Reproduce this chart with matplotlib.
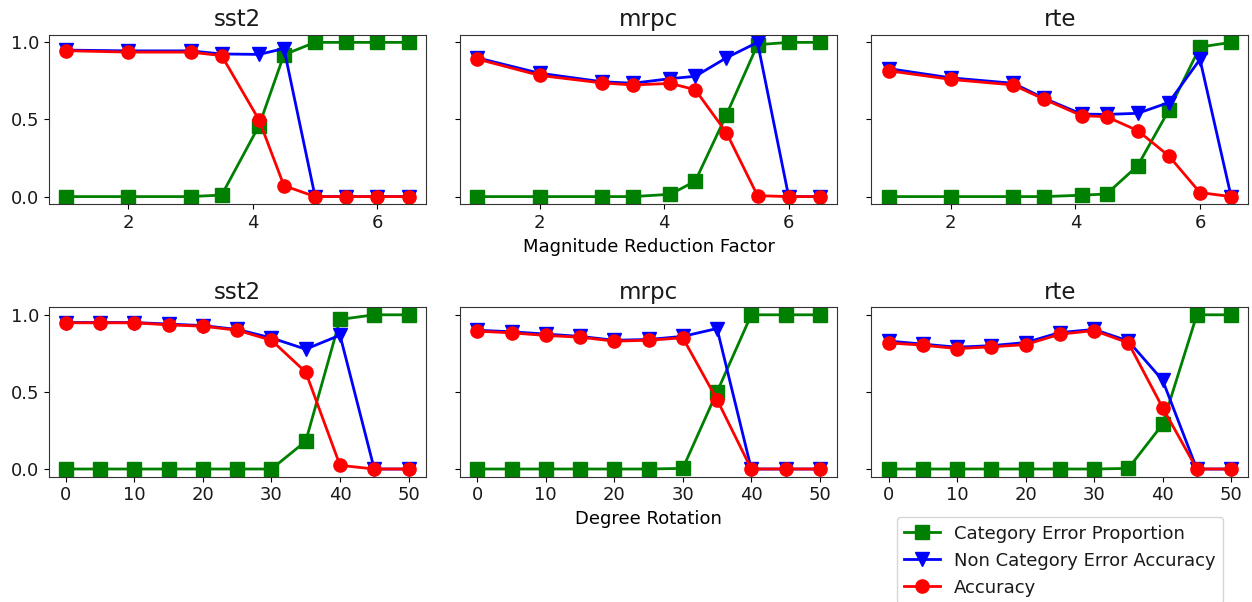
import matplotlib
matplotlib.use('Agg')
import matplotlib.pyplot as plt

# x values
magnitude_x = [1, 2, 3, 3.5, 4.1, 4.5, 5, 5.5, 6, 6.5]
rotation_x = [0, 5, 10, 15, 20, 25, 30, 35, 40, 45, 50]
tasks = ['sst2', 'mrpc', 'rte']

# Magnitude reduction (top row)
mag_cat_err = {
    'sst2': [0, 0, 0, 0.01, 0.46, 0.92, 1.0, 1.0, 1.0, 1.0],
    'mrpc': [0, 0, 0, 0, 0.015, 0.10, 0.53, 0.985, 1.0, 1.0],
    'rte': [0, 0, 0, 0, 0.009, 0.017, 0.20, 0.56, 0.97, 1.0],
}
mag_non_cat_acc = {
    'sst2': [0.95, 0.945, 0.945, 0.925, 0.922, 0.96, 0, 0, 0, 0],
    'mrpc': [0.90, 0.80, 0.745, 0.735, 0.765, 0.78, 0.90, 1.0, 0, 0],
    'rte': [0.83, 0.77, 0.735, 0.637, 0.535, 0.533, 0.54, 0.61, 0.89, 0],
}
mag_acc = {
    'sst2': [0.946, 0.937, 0.937, 0.914, 0.497, 0.071, 0, 0, 0, 0],
    'mrpc': [0.892, 0.786, 0.737, 0.724, 0.734, 0.693, 0.415, 0.006, 0, 0],
    'rte': [0.816, 0.760, 0.724, 0.631, 0.525, 0.518, 0.428, 0.264, 0.026, 0],
}

# Degree rotation (bottom row)
rot_cat_err = {
    'sst2': [0, 0, 0, 0, 0, 0, 0, 0.18, 0.97, 1.0, 1.0],
    'mrpc': [0, 0, 0, 0, 0, 0, 0.004, 0.50, 1.0, 1.0, 1.0],
    'rte': [0, 0, 0, 0, 0, 0, 0, 0.004, 0.29, 1.0, 1.0],
}
rot_non_cat_acc = {
    'sst2': [0.95, 0.95, 0.95, 0.94, 0.93, 0.905, 0.85, 0.777, 0.868, 0, 0],
    'mrpc': [0.90, 0.89, 0.875, 0.86, 0.835, 0.84, 0.86, 0.911, 0, 0, 0],
    'rte': [0.83, 0.81, 0.79, 0.80, 0.82, 0.885, 0.905, 0.83, 0.576, 0, 0],
}
rot_acc = {
    'sst2': [0.948, 0.948, 0.948, 0.935, 0.926, 0.900, 0.835, 0.628, 0.024, 0, 0],
    'mrpc': [0.894, 0.883, 0.866, 0.855, 0.829, 0.835, 0.851, 0.45, 0, 0, 0],
    'rte': [0.818, 0.803, 0.781, 0.792, 0.807, 0.874, 0.898, 0.818, 0.398, 0, 0],
}

plt.rcParams['font.size'] = 13
plt.rcParams['axes.edgecolor'] = '#333333'
plt.rcParams['text.color'] = '#1a1a1a'
plt.rcParams['xtick.labelcolor'] = '#1a1a1a'
plt.rcParams['ytick.labelcolor'] = '#1a1a1a'

fig, axes = plt.subplots(2, 3, figsize=(12.52, 6.02), dpi=100, sharey=True)
fig.subplots_adjust(left=0.039, right=0.997, top=0.9424, bottom=0.2081,
                    wspace=0.0915, hspace=0.606)

rows = [
    (magnitude_x, mag_cat_err, mag_non_cat_acc, mag_acc),
    (rotation_x, rot_cat_err, rot_non_cat_acc, rot_acc),
]

for r, (x, cat_err, non_cat, acc) in enumerate(rows):
    for c, task in enumerate(tasks):
        ax = axes[r, c]
        ax.plot(x, cat_err[task], color='green', marker='s', markersize=9.5,
                linewidth=2, label='Category Error Proportion')
        ax.plot(x, non_cat[task], color='blue', marker='v', markersize=9.5,
                linewidth=2, label='Non Category Error Accuracy')
        ax.plot(x, acc[task], color='red', marker='o', markersize=9.5,
                linewidth=2, label='Accuracy')
        ax.set_title(task, fontsize=16.5)
        ax.set_yticks([0.0, 0.5, 1.0])

axes[0, 1].set_xlabel('Magnitude Reduction Factor')
axes[1, 1].set_xlabel('Degree Rotation')
for ax in axes[0]:
    ax.set_xticks([2, 4, 6])
for ax in axes[1]:
    ax.set_xticks([0, 10, 20, 30, 40, 50])

axes[1, 2].legend(loc='upper center', bbox_to_anchor=(0.5, -0.24),
                  borderaxespad=0, fontsize=13)

plt.savefig('out.png')
